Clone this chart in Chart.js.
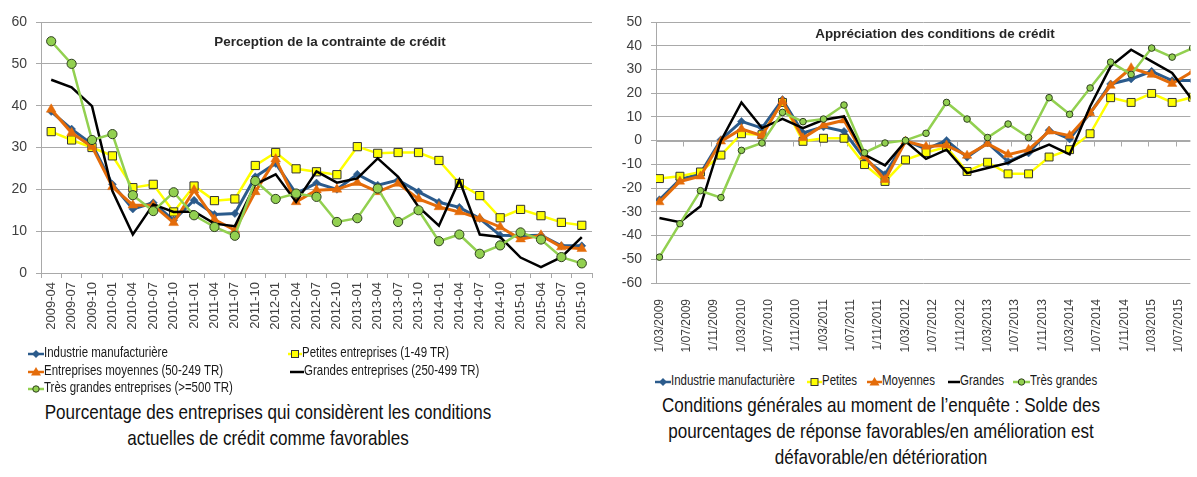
<!DOCTYPE html>
<html><head><meta charset="utf-8">
<script src="https://cdn.jsdelivr.net/npm/chart.js@4.4.1/dist/chart.umd.min.js"></script>
<style>
html,body{margin:0;padding:0;background:#fff;}
body{width:1197px;height:477px;overflow:hidden;position:relative;font-family:"Liberation Sans",Arial,sans-serif;}
#c1{position:absolute;left:0;top:0;}
#c2{position:absolute;left:600px;top:0;}
.mk{position:absolute;display:block;}
.lt{position:absolute;font-size:14px;color:#1a1a1a;white-space:nowrap;height:16px;line-height:16px;transform:scaleX(0.82);transform-origin:0 50%;}
.cap{position:absolute;font-size:20.8px;color:#111;text-align:center;line-height:26px;white-space:nowrap;transform:scaleX(0.82);}
</style></head>
<body>
<canvas id="c1" width="600" height="345"></canvas>
<canvas id="c2" width="597" height="360"></canvas>
<div class="cap" style="left:-60px;width:656px;top:399px;transform-origin:328px 50%;">Pourcentage des entreprises qui considèrent les conditions<br>actuelles de crédit comme favorables</div>
<div class="cap" style="left:581px;width:600px;top:392px;transform-origin:300px 50%;">Conditions générales au moment de l’enquête : Solde des<br>pourcentages de réponse favorables/en amélioration est<br>défavorable/en détérioration</div>
<script>
// ---------- LEFT CHART DATA ----------
const categoriesL = ['2009-04','2009-07','2009-10','2010-01','2010-04','2010-07','2010-10','2011-01','2011-04','2011-07','2011-10','2012-01','2012-04','2012-07','2012-10','2013-01','2013-04','2013-07','2013-10','2014-01','2014-04','2014-07','2014-10','2015-01','2015-04','2015-07','2015-10'];
const industrieL   = [38.6,34.4,30.8,21.2,15.3,16.8,12.6,17.4,14.0,14.2,23.0,26.2,19.0,21.5,20.0,23.6,21.0,22.2,19.4,16.9,15.7,13.0,9.0,8.9,9.0,6.5,6.5];
const petitesL     = [33.8,31.8,30.0,28.0,20.4,21.2,14.6,20.8,17.3,17.7,25.7,28.8,24.9,24.2,23.5,30.2,28.6,28.8,28.8,26.9,21.4,18.5,13.2,15.2,13.7,12.1,11.4];
const moyennesL    = [39.1,33.5,30.2,20.6,16.2,16.2,12.0,19.8,12.8,10.2,19.4,27.2,17.0,19.8,20.0,21.6,19.4,21.4,17.7,15.8,14.6,13.0,11.0,8.1,9.0,6.2,5.8];
const grandesL     = [46.2,44.4,39.9,19.6,9.2,16.4,14.6,14.7,11.8,11.2,21.2,23.6,17.0,24.3,21.6,22.6,27.4,23.0,15.8,11.3,22.2,9.2,8.6,3.7,1.4,3.8,8.6];
const tresGrandesL = [55.4,50.0,31.8,33.2,18.6,14.8,19.3,13.8,11.0,8.9,22.0,17.7,19.0,18.2,12.2,13.1,20.2,12.2,15.0,7.6,9.2,4.6,6.6,9.7,8.0,3.8,2.3];
const namesL = ['Industrie manufacturière','Petites entreprises (1-49 TR)','Entreprises moyennes (50-249 TR)','Grandes entreprises (250-499 TR)','Très grandes entreprises (>=500 TR)'];
const titleL = 'Perception de la contrainte de crédit';

// ---------- RIGHT CHART DATA ----------
const datesR = ['2009-03','2009-06','2009-09','2009-12','2010-03','2010-06','2010-09','2010-12','2011-03','2011-06','2011-09','2011-12','2012-03','2012-06','2012-09','2012-12','2013-03','2013-06','2013-09','2013-12','2014-03','2014-06','2014-09','2014-12','2015-03','2015-06','2015-09'];
const industrieR   = [-24.9,-16.4,-13.9,0.4,8.1,5.3,17.3,3.2,5.8,3.9,-7.7,-14.3,0.1,-3.6,0.1,-7.0,-1.0,-8.8,-5.2,4.4,0.7,11.6,23.9,26.0,29.2,25.3,25.3];
const petitesR     = [-16.0,-15.0,-13.2,-6.1,2.9,2.5,16.1,-0.3,1.0,1.0,-10.1,-17.2,-8.1,-5.0,-2.7,-13.0,-9.1,-14.0,-14.0,-6.9,-3.8,2.9,18.1,16.1,19.9,16.1,18.3];
const moyennesR    = [-25.9,-17.2,-15.0,-0.3,4.9,2.1,16.6,1.1,6.5,8.6,-6.6,-16.5,-0.3,-2.5,-2.0,-6.3,-1.3,-5.9,-3.8,3.9,2.1,11.6,23.2,30.6,27.8,24.0,29.1];
const grandesR     = [-32.6,-34.4,-27.7,0.0,16.1,5.3,9.2,5.3,8.8,10.2,-5.9,-10.4,-0.3,-7.7,-3.8,-13.7,-11.5,-9.4,-5.2,-1.7,-5.8,14.4,31.3,38.3,33.4,28.5,17.0];
const tresGrandesR = [-49.1,-35.0,-21.1,-24.0,-4.1,-1.0,11.9,8.0,9.1,15.0,-5.1,-1.0,0.1,3.1,16.1,9.1,1.3,7.0,1.3,18.1,11.1,22.2,33.1,27.9,39.0,35.2,39.0];
const tickLabelsR = ['1/03/2009','1/07/2009','1/11/2009','1/03/2010','1/07/2010','1/11/2010','1/03/2011','1/07/2011','1/11/2011','1/03/2012','1/07/2012','1/11/2012','1/03/2013','1/07/2013','1/11/2013','1/03/2014','1/07/2014','1/11/2014','1/03/2015','1/07/2015'];
const namesR = ['Industrie manufacturière','Petites','Moyennes','Grandes','Très grandes'];
const titleR = 'Appréciation des conditions de crédit';

// ---------- helpers ----------
const SANS = '"Liberation Sans",Arial,sans-serif';
const GRID = '#a9a9a9';
const TXT = '#404040';
Chart.defaults.font.family = SANS;
Chart.defaults.font.size = 13;
Chart.defaults.color = TXT;
Chart.defaults.animation = false;

const monthIdx = s => { const [y,m] = s.split('-').map(Number); return y*12 + (m-1); };
const labelMonthIdx = s => { const p = s.split('/'); return Number(p[2])*12 + (Number(p[1])-1); };
const baseR = monthIdx(datesR[0]);
const xR = datesR.map(d => monthIdx(d) - baseR);
const tickValsR = tickLabelsR.map(l => labelMonthIdx(l) - baseR);

const styles = [
  {color:'#2B5B8C', point:'rectRot', bw:3,   pb:'#2B5B8C', pr:[4,4]},
  {color:'#FFFF00', point:'rect',    bw:2.5, pb:'#333333', pr:[5.8,5.6]},
  {color:'#E46C0A', point:'triangle',bw:3,   pb:'#E46C0A', pr:[5.6,5.4]},
  {color:'#000000', point:false,     bw:2.5, pb:'#000000', pr:[0,0]},
  {color:'#92D050', point:'circle',  bw:2.5, pb:'#2f3f1f', pr:[4.6,3.3]}
];

function makeDatasets(seriesArr, names, side, xs){
  return seriesArr.map((vals,i)=>{
    const s = styles[i];
    return {
      label: names[i],
      data: xs ? vals.map((v,j)=>({x:xs[j], y:v})) : vals,
      borderColor: s.color, backgroundColor: s.color,
      borderWidth: s.bw, tension: 0,
      pointStyle: s.point || 'circle',
      pointRadius: s.pr[side], pointHoverRadius: s.pr[side],
      pointBackgroundColor: s.color, pointBorderColor: s.pb,
      pointBorderWidth: (i===1||i===4)?1:0.5,
      order: 5 - i,
      clip: side===1 ? 0 : undefined
    };
  });
}

const inTitle = {
  id:'inTitle',
  afterDatasetsDraw(chart, args, o){
    const ctx = chart.ctx; ctx.save();
    ctx.font = 'bold 13.4px ' + SANS; ctx.fillStyle = '#262626';
    ctx.textAlign = 'center'; ctx.textBaseline = 'middle';
    ctx.fillText(o.text, o.x, o.y); ctx.restore();
  }
};

// ---------- LEFT CHART ----------
new Chart(document.getElementById('c1'), {
  type:'line',
  data:{ labels: categoriesL, datasets: makeDatasets([industrieL,petitesL,moyennesL,grandesL,tresGrandesL], namesL, 0) },
  options:{
    responsive:false, devicePixelRatio:1,
    layout:{padding:{top:22,right:8,left:0,bottom:0}},
    plugins:{legend:{display:false}, tooltip:{enabled:false}, inTitle:{text:titleL, x:330, y:42}},
    scales:{
      x:{ type:'category', offset:true,
          grid:{display:true, drawOnChartArea:false, drawTicks:true, tickLength:5, offset:true, color:GRID},
          border:{color:GRID},
          ticks:{minRotation:90, maxRotation:90, autoSkip:false, padding:4, font:{size:13}},
          afterFit(s){ s.height = 72; s.paddingLeft = 0; s.paddingRight = 0; } },
      y:{ min:0, max:60, ticks:{stepSize:10, padding:9, font:{size:14}},
          grid:{color:GRID, tickLength:5}, border:{color:GRID},
          afterFit(s){ s.width = 41; } }
    }
  },
  plugins:[inTitle]
});

// ---------- RIGHT CHART ----------
const zeroAxis = {
  id:'zeroAxis',
  beforeDatasetsDraw(chart){
    const {ctx, chartArea, scales:{x,y}} = chart;
    const y0 = Math.round(y.getPixelForValue(0)) + 0.5;
    ctx.save(); ctx.strokeStyle = GRID; ctx.lineWidth = 1; ctx.beginPath();
    ctx.moveTo(chartArea.left, y0); ctx.lineTo(chartArea.right, y0);
    tickValsR.forEach(v=>{
      const px = Math.round(x.getPixelForValue(v - 0.5)) + 0.5;
      if (px > chartArea.left + 1 && px < chartArea.right) { ctx.moveTo(px, y0); ctx.lineTo(px, y0 + 5); }
    });
    ctx.stroke(); ctx.restore();
  }
};

new Chart(document.getElementById('c2'), {
  type:'line',
  data:{ datasets: makeDatasets([industrieR,petitesR,moyennesR,grandesR,tresGrandesR], namesR, 1, xR) },
  options:{
    responsive:false, devicePixelRatio:1,
    layout:{padding:{top:22,right:0,left:0,bottom:0}},
    plugins:{legend:{display:false}, tooltip:{enabled:false}, inTitle:{text:titleR, x:335, y:34}},
    scales:{
      x:{ type:'linear', min:-0.5, max:77.67,
          grid:{display:false}, border:{display:false},
          afterBuildTicks(s){ s.ticks = tickValsR.map(v=>({value:v})); },
          ticks:{ autoSkip:false, minRotation:90, maxRotation:90, padding:8, font:{size:12},
                  callback(v){ const i = tickValsR.indexOf(v); return i>=0 ? tickLabelsR[i] : ''; } },
          afterFit(s){ s.height = 77; s.paddingLeft = 0; s.paddingRight = 0; } },
      y:{ min:-60, max:50, ticks:{stepSize:10, padding:9, font:{size:14}},
          grid:{color:GRID, tickLength:5}, border:{color:GRID},
          afterFit(s){ s.width = 56; } }
    }
  },
  plugins:[inTitle, zeroAxis]
});

// ---------- HTML LEGENDS ----------
function markerSvg(i, w){
  const s = styles[i]; const cx = w/2, cy = 6;
  let shape = '';
  if (s.point==='rectRot') shape = `<polygon points="${cx},${cy-4} ${cx+4},${cy} ${cx},${cy+4} ${cx-4},${cy}" fill="${s.color}"/>`;
  if (s.point==='rect') shape = `<rect x="${cx-3.5}" y="${cy-3.5}" width="7" height="7" fill="${s.color}" stroke="#333" stroke-width="1"/>`;
  if (s.point==='triangle') shape = `<polygon points="${cx},${cy-5} ${cx+5},${cy+3.5} ${cx-5},${cy+3.5}" fill="${s.color}"/>`;
  if (s.point==='circle') shape = `<circle cx="${cx}" cy="${cy}" r="3.2" fill="${s.color}" stroke="#2f3f1f" stroke-width="1"/>`;
  return `<svg width="${w}" height="12" viewBox="0 0 ${w} 12"><line x1="0" y1="6" x2="${w}" y2="6" stroke="${s.color}" stroke-width="2.5"/>${shape}</svg>`;
}
function addLegend(names, pos){
  names.forEach((n,i)=>{
    const [mx, tx, cy] = pos[i];
    const m = document.createElement('div'); m.className='mk';
    m.style.left = mx+'px'; m.style.top = (cy-6)+'px';
    m.innerHTML = markerSvg(i, tx - mx);
    document.body.appendChild(m);
    const t = document.createElement('div'); t.className='lt';
    t.style.left = tx+'px'; t.style.top = (cy-8)+'px'; t.textContent = n;
    document.body.appendChild(t);
  });
}
addLegend(namesL, [[28,44,352],[288,302,352],[28,44,370],[290,304,370],[28,44,387]]);
addLegend(namesR, [[655,671,380],[807,822,380],[867,882,380],[948,960,380],[1013,1030,380]]);
</script>
</body></html>
